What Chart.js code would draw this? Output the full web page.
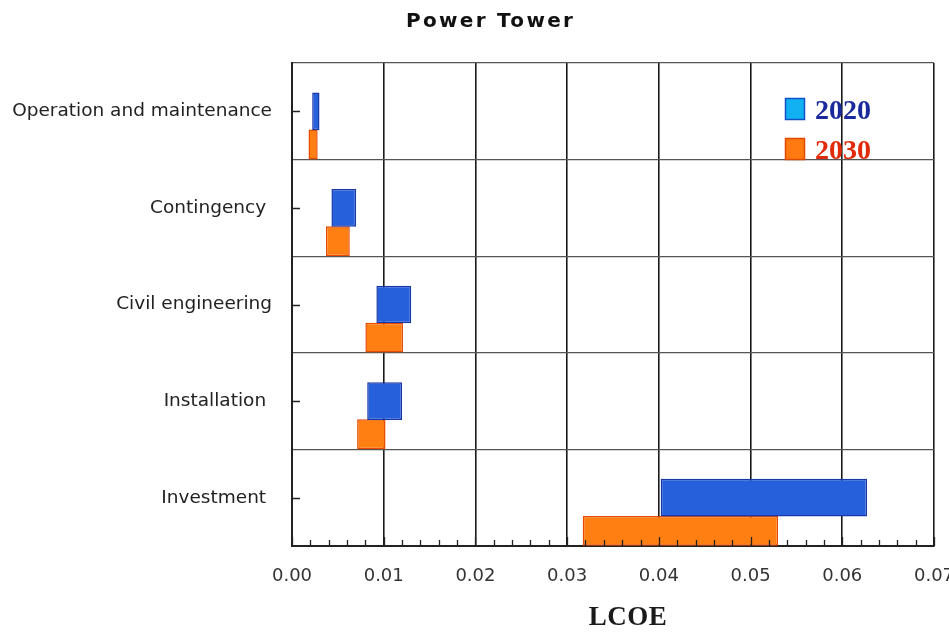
<!DOCTYPE html>
<html><head><meta charset="utf-8">
<script src="https://cdn.jsdelivr.net/npm/chart.js@4"></script>
<style>html,body{margin:0;padding:0;background:#fff}#wrap{width:949px;height:632px;position:relative}</style>
</head><body><div id="wrap"><canvas id="c"></canvas></div>
<script>
const chartTitle = "Power Tower";
const axisTitle = "LCOE";
const categories = ["Operation and maintenance", "Contingency ", "Civil engineering", "Installation ", "Investment "];
const seriesNames = ["2020", "2030"];
const start2020 = [0.0022, 0.0043, 0.0092, 0.0082, 0.0402];
const end2020   = [0.0030, 0.0070, 0.0130, 0.0120, 0.0627];
const start2030 = [0.0018, 0.0037, 0.0080, 0.0071, 0.0317];
const end2030   = [0.0028, 0.0063, 0.0121, 0.0102, 0.0530];
const xMin = 0, xMax = 0.07, xStep = 0.01, xMinorStep = 0.002;

const data2020 = start2020.map((s, i) => [s, end2020[i]]);
const data2030 = start2030.map((s, i) => [s, end2030[i]]);

const decor = {
  id: 'decor',
  afterDatasetsDraw(chart) {
    const {ctx, chartArea: a, scales: {x, y}} = chart;
    ctx.save();
    ctx.strokeStyle = '#222';
    ctx.lineWidth = 1.3;
    ctx.beginPath();
    for (let v = xMin; v <= xMax + 1e-9; v += xMinorStep) {
      const px = Math.round(x.getPixelForValue(v)) + 0.5;
      const major = Math.abs(v / xStep - Math.round(v / xStep)) < 1e-6;
      ctx.moveTo(px, a.bottom);
      ctx.lineTo(px, a.bottom - (major ? 9 : 6));
    }
    for (let i = 0; i < categories.length; i++) {
      const c = Math.round(y.getPixelForValue(i)) + 0.5;
      ctx.moveTo(a.left, c); ctx.lineTo(a.left + 8, c);
    }
    ctx.stroke();
    ctx.restore();
  },
  afterDraw(chart) {
    const {ctx, chartArea: a} = chart;
    ctx.save();
    ctx.font = 'bold 20px "DejaVu Sans"';
    ctx.fillStyle = '#111';
    ctx.textBaseline = 'alphabetic';
    ctx.textAlign = 'left';
    ctx.letterSpacing = '2.3px';
    ctx.fillText(chartTitle, 406, 27);
    ctx.letterSpacing = '0.5px';
    ctx.font = 'bold 27px "Liberation Serif"';
    ctx.fillStyle = '#1a1a1a';
    ctx.textAlign = 'center';
    ctx.fillText(axisTitle, 628, 625);
    ctx.textAlign = 'left';
    ctx.letterSpacing = '0px';
    const items = [
      {label: chart.data.datasets[1].label, fill: '#12b2f2', stroke: '#1050c8', text: '#1a2a9c', y: 98},
      {label: chart.data.datasets[2].label, fill: '#ff7a10', stroke: '#e04800', text: '#e02a0a', y: 138}
    ];
    ctx.font = 'bold 28px "Liberation Serif"';
    for (const it of items) {
      ctx.fillStyle = it.fill;
      ctx.fillRect(785, it.y, 20, 22);
      ctx.strokeStyle = it.stroke; ctx.lineWidth = 1.5;
      ctx.strokeRect(785.5, it.y + 0.5, 19, 21);
      ctx.fillStyle = it.text;
      ctx.fillText(it.label, 815, it.y + 21);
    }
    ctx.restore();
  }
};

new Chart(document.getElementById('c'), {
  type: 'bar',
  data: {
    labels: categories,
    datasets: [
      {label: '', data: categories.map(() => null)},
      {label: seriesNames[0], data: data2020, backgroundColor: '#2661db', borderColor: '#1838a8', borderWidth: 1.5, borderSkipped: false,
       categoryPercentage: 1.0, barPercentage: 1.17},
      {label: seriesNames[1], data: data2030, backgroundColor: '#ff7f12', borderColor: '#e84a00', borderWidth: 1.5, borderSkipped: false,
       categoryPercentage: 1.03, barPercentage: 0.9}
    ]
  },
  options: {
    indexAxis: 'y',
    responsive: true,
    maintainAspectRatio: false,
    animation: false,
    layout: {padding: {left: 0, right: 15, top: 63, bottom: 0}},
    plugins: {legend: {display: false}, title: {display: false}, tooltip: {enabled: false}},
    scales: {
      x: {
        min: xMin, max: xMax,
        ticks: {stepSize: xStep, callback: v => Number(v).toFixed(2), color: '#333', font: {family: 'DejaVu Sans', size: 18}, padding: 20},
        grid: {color: '#1a1a1a', lineWidth: 1.6, drawTicks: false},
        border: {color: '#222', width: 2},
        title: {display: false},
        afterFit(s) { s.height = 86; s.paddingRight = 0; s.paddingLeft = 0; }
      },
      y: {
        ticks: {color: '#222', font: {family: 'DejaVu Sans', size: 18.5}, padding: 20},
        grid: {offset: true, color: '#555', lineWidth: 1.3, drawTicks: false},
        border: {color: '#222', width: 2},
        afterFit(s) { s.width = 292; }
      }
    }
  },
  plugins: [decor]
});
</script>
</body></html>
